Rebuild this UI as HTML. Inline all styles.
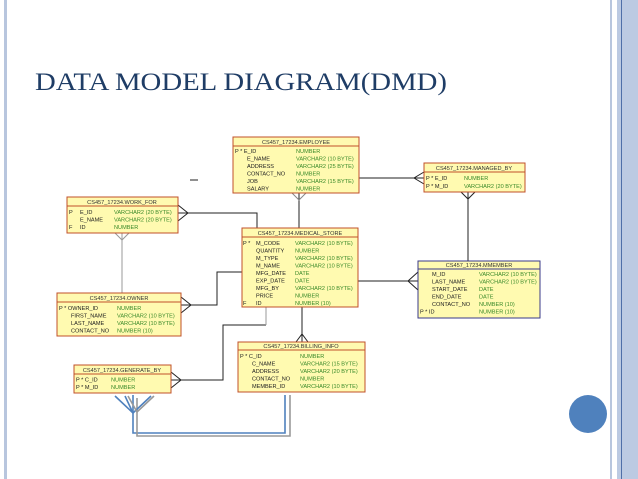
<!DOCTYPE html>
<html><head><meta charset="utf-8"><style>
html,body{margin:0;padding:0;background:#fff;}
body{width:638px;height:479px;overflow:hidden;position:relative;}
svg{position:absolute;left:0;top:0;}
.t{font-family:"Liberation Sans",sans-serif;font-size:5.6px;}
.h{font-family:"Liberation Sans",sans-serif;font-size:5.6px;fill:#333;}
.n{fill:#222;}
.g{fill:#3a8a2a;}
</style></head><body>
<svg width="638" height="479" viewBox="0 0 638 479">
<rect x="4" y="0" width="3" height="479" fill="#b8c6de"/>
<rect x="610" y="0" width="2" height="479" fill="#b8c6de"/>
<rect x="617" y="0" width="21" height="479" fill="#bccae2"/>
<rect x="621" y="0" width="1" height="479" fill="#4f6fa8"/>
<circle cx="588" cy="414" r="19" fill="#4f81bd"/>
<text x="35" y="90" font-family="Liberation Serif,serif" font-size="25.5" fill="#1f3d66" textLength="412" lengthAdjust="spacingAndGlyphs">DATA MODEL DIAGRAM(DMD)</text>

<g stroke="#222" stroke-width="1" fill="none">
<path d="M359 178H424"/><path d="M424 172L414 178L424 184"/>
<path d="M299 193V228"/><path d="M292 193L299 200L306 193" stroke="#888"/>
<path d="M468 192V261"/><path d="M461 192L468 199L475 192"/>
<path d="M358 281H418"/><path d="M418 272L408 281L418 290"/>
<path d="M178 213H257V228"/><path d="M178 205L188 213L178 221"/>
<path d="M181 305H217V272H242"/><path d="M181 297L191 305L181 313"/>
<path d="M171 380H223V325H266"/><path d="M171 372L181 380L171 388"/>
<path d="M302 307V342"/><path d="M296 342L302 334L308 342"/>
<path d="M190 180H198"/>
</g>
<g stroke="#999" stroke-width="1" fill="none">
<path d="M122 233V293"/><path d="M115 233L122 240L129 233"/>
<path d="M266 325V307"/>
</g>
<g fill="none" stroke-width="1.6">
<path d="M133 395V433H285V395" stroke="#4f81bd"/>
<path d="M137 398V436H290V395" stroke="#999"/>
<path d="M115 396L133 413L151 396M125 396L133 413" stroke="#4f81bd"/>
<path d="M128 396L137 412L154 396" stroke="#999"/>
</g>

<g>
<rect x="233" y="137" width="126" height="56" fill="#fffab0" stroke="#c0502a"/>
<line x1="233" y1="146" x2="359" y2="146" stroke="#c0502a"/>
<text class="h" x="296" y="144" text-anchor="middle">CS457_17234.EMPLOYEE</text>
<g class="t">
<text x="235" y="153" class="n">P * E_ID</text><text x="296" y="153" class="g">NUMBER</text>
<text x="247" y="160.5" class="n">E_NAME</text><text x="296" y="160.5" class="g">VARCHAR2 (10 BYTE)</text>
<text x="247" y="168" class="n">ADDRESS</text><text x="296" y="168" class="g">VARCHAR2 (25 BYTE)</text>
<text x="247" y="175.5" class="n">CONTACT_NO</text><text x="296" y="175.5" class="g">NUMBER</text>
<text x="247" y="183" class="n">JOB</text><text x="296" y="183" class="g">VARCHAR2 (15 BYTE)</text>
<text x="247" y="190.5" class="n">SALARY</text><text x="296" y="190.5" class="g">NUMBER</text>
</g></g>

<g>
<rect x="424" y="163" width="101" height="29" fill="#fffab0" stroke="#c0502a"/>
<line x1="424" y1="172" x2="525" y2="172" stroke="#c0502a"/>
<text class="h" x="474" y="170" text-anchor="middle">CS457_17234.MANAGED_BY</text>
<g class="t">
<text x="426" y="180" class="n">P * E_ID</text><text x="464" y="180" class="g">NUMBER</text>
<text x="426" y="188" class="n">P * M_ID</text><text x="464" y="188" class="g">VARCHAR2 (20 BYTE)</text>
</g></g>

<g>
<rect x="67" y="197" width="111" height="36" fill="#fffab0" stroke="#c0502a"/>
<line x1="67" y1="206" x2="178" y2="206" stroke="#c0502a"/>
<text class="h" x="122" y="204" text-anchor="middle">CS457_17234.WORK_FOR</text>
<g class="t">
<text x="69" y="214" class="n">P</text><text x="80" y="214" class="n">E_ID</text><text x="114" y="214" class="g">VARCHAR2 (20 BYTE)</text>
<text x="80" y="221.5" class="n">E_NAME</text><text x="114" y="221.5" class="g">VARCHAR2 (20 BYTE)</text>
<text x="69" y="229" class="n">F</text><text x="80" y="229" class="n">ID</text><text x="114" y="229" class="g">NUMBER</text>
</g></g>

<g>
<rect x="242" y="228" width="116" height="79" fill="#fffab0" stroke="#c0502a"/>
<line x1="242" y1="237" x2="358" y2="237" stroke="#c0502a"/>
<text class="h" x="300" y="235" text-anchor="middle">CS457_17234.MEDICAL_STORE</text>
<g class="t">
<text x="243" y="245" class="n">P *</text><text x="256" y="245" class="n">M_CODE</text><text x="295" y="245" class="g">VARCHAR2 (10 BYTE)</text>
<text x="256" y="252.5" class="n">QUANTITY</text><text x="295" y="252.5" class="g">NUMBER</text>
<text x="256" y="260" class="n">M_TYPE</text><text x="295" y="260" class="g">VARCHAR2 (10 BYTE)</text>
<text x="256" y="267.5" class="n">M_NAME</text><text x="295" y="267.5" class="g">VARCHAR2 (10 BYTE)</text>
<text x="256" y="275" class="n">MFG_DATE</text><text x="295" y="275" class="g">DATE</text>
<text x="256" y="282.5" class="n">EXP_DATE</text><text x="295" y="282.5" class="g">DATE</text>
<text x="256" y="290" class="n">MFG_BY</text><text x="295" y="290" class="g">VARCHAR2 (10 BYTE)</text>
<text x="256" y="297.5" class="n">PRICE</text><text x="295" y="297.5" class="g">NUMBER</text>
<text x="243" y="305" class="n">F</text><text x="256" y="305" class="n">ID</text><text x="295" y="305" class="g">NUMBER (10)</text>
</g></g>

<g>
<rect x="418" y="261" width="122" height="57" fill="#fffab0" stroke="#3a3a8a"/>
<line x1="418" y1="269" x2="540" y2="269" stroke="#3a3a8a"/>
<text class="h" x="479" y="267" text-anchor="middle">CS457_17234.MMEMBER</text>
<g class="t">
<text x="432" y="276" class="n">M_ID</text><text x="479" y="276" class="g">VARCHAR2 (10 BYTE)</text>
<text x="432" y="283.5" class="n">LAST_NAME</text><text x="479" y="283.5" class="g">VARCHAR2 (10 BYTE)</text>
<text x="432" y="291" class="n">START_DATE</text><text x="479" y="291" class="g">DATE</text>
<text x="432" y="298.5" class="n">END_DATE</text><text x="479" y="298.5" class="g">DATE</text>
<text x="432" y="306" class="n">CONTACT_NO</text><text x="479" y="306" class="g">NUMBER (10)</text>
<text x="420" y="313.5" class="n">P * ID</text><text x="479" y="313.5" class="g">NUMBER (10)</text>
</g></g>

<g>
<rect x="57" y="293" width="124" height="43" fill="#fffab0" stroke="#c0502a"/>
<line x1="57" y1="302" x2="181" y2="302" stroke="#c0502a"/>
<text class="h" x="119" y="300" text-anchor="middle">CS457_17234.OWNER</text>
<g class="t">
<text x="59" y="310" class="n">P * OWNER_ID</text><text x="117" y="310" class="g">NUMBER</text>
<text x="71" y="317.5" class="n">FIRST_NAME</text><text x="117" y="317.5" class="g">VARCHAR2 (10 BYTE)</text>
<text x="71" y="325" class="n">LAST_NAME</text><text x="117" y="325" class="g">VARCHAR2 (10 BYTE)</text>
<text x="71" y="332.5" class="n">CONTACT_NO</text><text x="117" y="332.5" class="g">NUMBER (10)</text>
</g></g>

<g>
<rect x="238" y="342" width="127" height="50" fill="#fffab0" stroke="#c0502a"/>
<line x1="238" y1="350" x2="365" y2="350" stroke="#c0502a"/>
<text class="h" x="301" y="348" text-anchor="middle">CS457_17234.BILLING_INFO</text>
<g class="t">
<text x="240" y="358" class="n">P * C_ID</text><text x="300" y="358" class="g">NUMBER</text>
<text x="252" y="365.5" class="n">C_NAME</text><text x="300" y="365.5" class="g">VARCHAR2 (15 BYTE)</text>
<text x="252" y="373" class="n">ADDRESS</text><text x="300" y="373" class="g">VARCHAR2 (20 BYTE)</text>
<text x="252" y="380.5" class="n">CONTACT_NO</text><text x="300" y="380.5" class="g">NUMBER</text>
<text x="252" y="388" class="n">MEMBER_ID</text><text x="300" y="388" class="g">VARCHAR2 (10 BYTE)</text>
</g></g>

<g>
<rect x="74" y="365" width="97" height="28" fill="#fffab0" stroke="#c0502a"/>
<line x1="74" y1="374" x2="171" y2="374" stroke="#c0502a"/>
<text class="h" x="122" y="372" text-anchor="middle">CS457_17234.GENERATE_BY</text>
<g class="t">
<text x="76" y="381.5" class="n">P * C_ID</text><text x="111" y="381.5" class="g">NUMBER</text>
<text x="76" y="389" class="n">P * M_ID</text><text x="111" y="389" class="g">NUMBER</text>
</g></g>
</svg>
</body></html>
